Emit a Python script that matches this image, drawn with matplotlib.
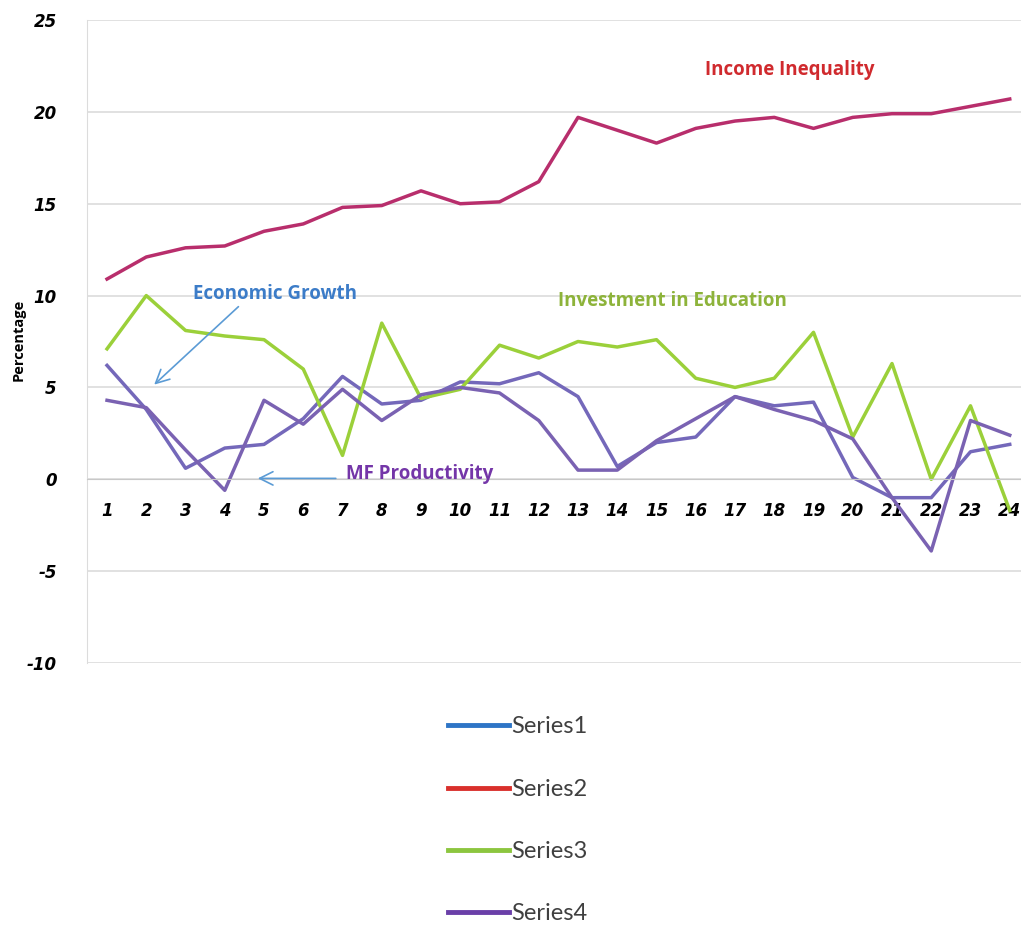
import numpy as np
import matplotlib.pyplot as plt
from matplotlib.lines import Line2D

plt.rcParams['axes.unicode_minus'] = False

# data
years = np.arange(1, 25)
growth = [6.2, 3.8, 0.6, 1.7, 1.9, 3.3, 5.6, 4.1, 4.3, 5.3, 5.2, 5.8,
          4.5, 0.7, 2.0, 2.3, 4.5, 4.0, 4.2, 0.1, -1.0, -1.0, 1.5, 1.9]
inequality = [10.9, 12.1, 12.6, 12.7, 13.5, 13.9, 14.8, 14.9, 15.7, 15.0, 15.1, 16.2,
              19.7, 19.0, 18.3, 19.1, 19.5, 19.7, 19.1, 19.7, 19.9, 19.9, 20.3, 20.7]
education = [7.1, 10.0, 8.1, 7.8, 7.6, 6.0, 1.3, 8.5, 4.4, 4.9, 7.3, 6.6,
             7.5, 7.2, 7.6, 5.5, 5.0, 5.5, 8.0, 2.3, 6.3, 0.0, 4.0, -1.7]
mfp = [4.3, 3.9, 1.6, -0.6, 4.3, 3.0, 4.9, 3.2, 4.6, 5.0, 4.7, 3.2,
       0.5, 0.5, 2.1, 3.3, 4.5, 3.8, 3.2, 2.2, -1.0, -3.9, 3.2, 2.4]

series_names = ['Series1', 'Series2', 'Series3', 'Series4']
legend_colors = ['#2E75C6', '#D9302C', '#8CC63F', '#6A3FA8']

fig = plt.figure(figsize=(10.21, 9.26), dpi=100)
ax = fig.add_axes([0.0856, 0.284, 0.9226, 0.6944])

ax.plot(years, growth, color='#7468BA', lw=2.5)
ax.plot(years, inequality, color='#B82E6C', lw=2.5)
ax.plot(years, education, color='#9BD03A', lw=2.5)
ax.plot(years, mfp, color='#7A62B2', lw=2.5)

ax.set_xlim(0.5, 24.5)
ax.set_ylim(-10, 25)
ax.set_yticks(range(-10, 26, 5))
ax.set_xticks(years)
ax.grid(axis='y', color='#DCDCDC', lw=1.2)
ax.set_axisbelow(True)

for s in ['top', 'right']:
    ax.spines[s].set_visible(False)
ax.spines['left'].set_color('#DCDCDC')
ax.spines['bottom'].set_position(('data', 0))
ax.spines['bottom'].set_color('#C8C8C8')
ax.tick_params(length=0)
ax.tick_params(axis='y', pad=22)
ax.tick_params(axis='x', pad=16)
for lab in ax.get_xticklabels() + ax.get_yticklabels():
    lab.set_fontweight('bold')
    lab.set_fontstyle('italic')
    lab.set_fontsize(12)

fig.text(0.018, 0.633, 'Percentage', rotation=90, ha='center', va='center',
         fontsize=10.5, fontweight='bold', family='Open Sans')

# annotations
note = dict(fontsize=13.5, fontweight='bold', family='Open Sans', ha='center', va='center')
ax.text(18.4, 22.3, 'Income Inequality', color='#D02A2E', **note)
ax.text(15.4, 9.7, 'Investment in Education', color='#8DB33A', **note)
ax.text(5.27, 10.1, 'Economic Growth', color='#3C7CC8', **note)
ax.text(8.96, 0.3, 'MF Productivity', color='#7436A8', **note)
ax.annotate('', xy=(2.15, 5.05), xytext=(4.4, 9.5),
            arrowprops=dict(arrowstyle='->', color='#5B9BD5', lw=1.2,
                            mutation_scale=24))
ax.annotate('', xy=(4.77, 0.05), xytext=(6.9, 0.05),
            arrowprops=dict(arrowstyle='->', color='#5B9BD5', lw=1.2,
                            mutation_scale=24))

handles = [Line2D([], [], color=c, lw=3.5) for c in legend_colors]
leg = fig.legend(handles, series_names, loc='center', bbox_to_anchor=(0.507, 0.114),
                 frameon=False, handlelength=2.6, handletextpad=0.1,
                 labelspacing=1.75, prop={'family': 'Lato', 'size': 17})
for t in leg.get_texts():
    t.set_color('#404040')

fig.savefig('out.png', dpi=100)
